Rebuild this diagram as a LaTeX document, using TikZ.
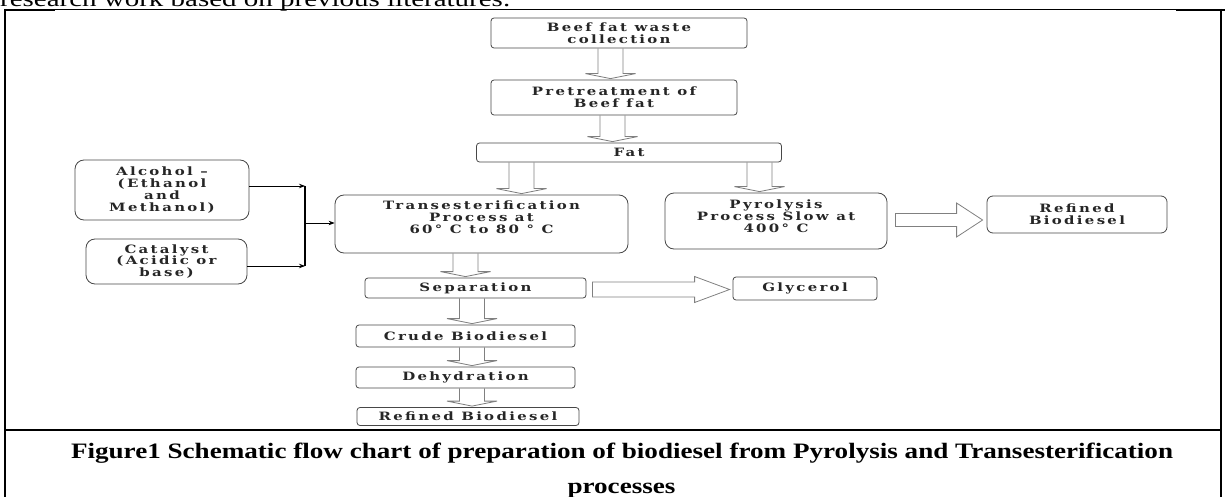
\documentclass[tikz,border=0pt]{standalone}
\usepackage{fontspec}
\usepackage{graphicx}
\setmainfont{Liberation Serif}
\newfontfamily\boxfont[FakeStretch=1.3, LetterSpace=20]{DejaVu Serif Bold}
\usetikzlibrary{calc,arrows.meta}
\newsavebox\capbox
\newsavebox\topbox
\newcommand\capfont{\bfseries\fontsize{22}{24}\selectfont}
\newcommand\vblk[3]{%
  \draw[hollow] let \p1=(#1.south), \p2=(#2.north) in
  ({(#3-12.5)*1pt},\y1) -- ({(#3-12.5)*1pt},{\y2+6pt}) -- ({(#3-25)*1pt},{\y2+6pt})
  -- ({#3*1pt},{\y2+1pt}) -- ({(#3+25)*1pt},{\y2+6pt}) -- ({(#3+12.5)*1pt},{\y2+6pt})
  -- ({(#3+12.5)*1pt},\y1);}
% #1 from, #2 to, #3 centre y, #4 shaft half, #5 head half, #6 head length, #7 start gap, #8 end gap
\newcommand\hblk[8]{%
  \draw[hollow] let \p1=(#1.east), \p2=(#2.west) in
  ({\x1+#7pt},{-(#3-#4)*1pt}) -- ({\x2-#8pt-#6pt},{-(#3-#4)*1pt})
  -- ({\x2-#8pt-#6pt},{-(#3-#5)*1pt}) -- ({\x2-#8pt},{-#3*1pt})
  -- ({\x2-#8pt-#6pt},{-(#3+#5)*1pt}) -- ({\x2-#8pt-#6pt},{-(#3+#4)*1pt})
  -- ({\x1+#7pt},{-(#3+#4)*1pt}) -- cycle;}
\newcommand\boxtext{\boxfont\fontsize{11.5}{11.8}\selectfont}
\tikzset{
  box/.style={draw=black!72, line width=0.8pt, rounded corners=3pt, inner sep=0pt,
    font=\boxtext, align=center, text=black!85},
  bigbox/.style={box, rounded corners=9pt},
  inlabel/.style={font=\boxtext, align=center, text=black!85},
  hollow/.style={draw=black!50, line width=0.8pt, line join=miter},
  feed/.style={draw=black, line width=0.8pt, -{Stealth[length=6pt,width=4.5pt]}},
  frame/.style={draw=black, line width=1pt},
}
\begin{document}
\sbox\topbox{\fontsize{22}{22}\selectfont research work based on previous literatures.}%
\sbox\capbox{\capfont Figure1 Schematic flow chart of preparation of biodiesel from Pyrolysis and Transesterification}%
\begin{tikzpicture}[x=1pt,y=-1pt]
\useasboundingbox (0,0) rectangle (1225,497);
% table frame
\draw[frame] (4,9.5) -- (1221,9.5);
\draw[frame, line width=2.5pt] (4,10) -- (55,10);
\draw[frame, line width=2.5pt] (1176,10) -- (1225,10);
\draw[frame, line width=2pt] (5,9) -- (5,497);
\draw[frame, line width=1.5pt] (1221,9) -- (1221,497);
\draw[frame, line width=2pt] (4,430) -- (1221,430);
% cut-off text above the table
\pgfmathsetmacro\topsc{510pt/\wd\topbox}
\node[anchor=base west, inner sep=0pt] (toptext) at (0,7) {\scalebox{\topsc}[1]{\usebox\topbox}};
% boxes
\node[box, minimum width=256, minimum height=30] (beef) at (619,33) {Beef fat waste\\collection};
\node[box, minimum width=246, minimum height=35] (pre) at (614,97.5) {Pretreatment of\\Beef fat};
\node[box, minimum width=305, minimum height=19] (fat) at (629,152.5) {Fat};
\node[bigbox, minimum width=174, minimum height=60] (alc) at (162,190) {Alcohol –\\(Ethanol\\and\\Methanol)};
\node[bigbox, minimum width=161, minimum height=45] (cat) at (166.5,261.5) {Catalyst\\(Acidic or\\base)};
\node[bigbox, minimum width=293, minimum height=58,
  label={[inlabel, yshift=7pt]center:Transesterification\\Process at\\60° C to 80 ° C}] (trans) at (481.5,224) {};
\node[bigbox, minimum width=222, minimum height=56,
  label={[inlabel, yshift=5pt]center:Pyrolysis\\Process Slow at\\400° C}] (pyro) at (776,221) {};
\node[bigbox, rounded corners=6pt, minimum width=180, minimum height=37] (refR) at (1077,214.5) {Refined\\Biodiesel};
\node[box, minimum width=221, minimum height=20] (sep) at (475.5,288) {Separation};
\node[box, minimum width=144, minimum height=23] (gly) at (805,288.5) {Glycerol};
\node[box, minimum width=219, minimum height=22] (crude) at (465.5,336) {Crude Biodiesel};
\node[box, minimum width=219, minimum height=21] (dehyd) at (465.5,377.5) {Dehydration};
\node[box, minimum width=222, minimum height=18] (refB) at (468,416.5) {Refined Biodiesel};
% hollow block arrows
\vblk{beef}{pre}{610.5}
\vblk{pre}{fat}{612.5}
\vblk{fat}{trans}{521.5}
\vblk{fat}{pyro}{759.5}
\vblk{trans}{sep}{465.5}
\vblk{sep}{crude}{472}
\vblk{crude}{dehyd}{472}
\vblk{dehyd}{refB}{472}
\hblk{pyro}{refR}{220}{6.5}{17}{26}{8}{4}
\hblk{sep}{gly}{289.5}{7.5}{13}{35}{6}{3}
% feed lines
\coordinate (jtop) at (305,186);
\coordinate (jbot) at (305,266);
\coordinate (jmid) at (305,223);
\draw[feed] ($(alc.east)+(0,-4)$) -- (jtop);
\draw[feed] ($(cat.east)+(0,4.5)$) -- (jbot);
\draw[line width=1.3pt] (jtop) -- (jbot);
\draw[feed] (jmid) -- (trans.west |- jmid);
% caption
\pgfmathsetmacro\capsc{1102pt/\wd\capbox}
\node[anchor=base, inner sep=0pt] (cap1) at (622,458) {\scalebox{\capsc}[1]{\usebox\capbox}};
\node[anchor=base, inner sep=0pt] (cap2) at (621.5,493) {\scalebox{\capsc}[1]{\capfont processes}};
\end{tikzpicture}
\end{document}
